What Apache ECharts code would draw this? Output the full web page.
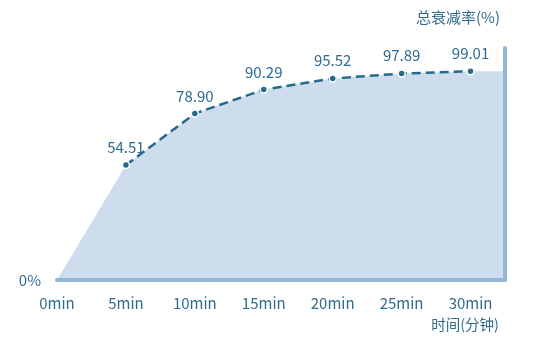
<!DOCTYPE html>
<html>
<head>
<meta charset="utf-8">
<script src="https://cdn.jsdelivr.net/npm/echarts@6/dist/echarts.min.js"></script>
<style>
html,body{margin:0;padding:0;background:#fff;}
#chart{width:554px;height:346px;}
</style>
</head>
<body>
<div id="chart"></div>
<script>
// Data
var times = [0, 5, 10, 15, 20, 25, 30];
var decayRate = [0, 54.51, 78.90, 90.29, 95.52, 97.89, 99.01];
var yAxisTitle = '总衰减率(%)';
var xAxisTitle = '时间(分钟)';

var X_MAX = 32.5;
var FONT = '"Noto Sans CJK SC", "Noto Sans", sans-serif';
var TEXT = '#2f6b8f';
var LINE = '#256a8c';
var FILL = '#cedded';
var BAR = '#95b7d7';

var areaData = times.map(function (t, i) { return [t, decayRate[i]]; });
areaData.push([X_MAX, decayRate[decayRate.length - 1]]);
var lineData = times.slice(1).map(function (t, i) { return [t, decayRate[i + 1]]; });

var chart = echarts.init(document.getElementById('chart'), null, {renderer: 'canvas'});
chart.setOption({
  animation: false,
  textStyle: {fontFamily: FONT},
  title: [
    {text: yAxisTitle, right: 54, top: 10, padding: 0,
     textStyle: {fontFamily: FONT, fontSize: 15, fontWeight: 'normal', color: TEXT}},
    {text: xAxisTitle, right: 55, top: 317, padding: 0,
     textStyle: {fontFamily: FONT, fontSize: 14.5, fontWeight: 'normal', color: TEXT}}
  ],
  grid: {left: 57, right: 49, top: 48, bottom: 66},
  xAxis: {
    type: 'value', min: 0, max: X_MAX, interval: 5, z: 10,
    axisLine: {show: true, lineStyle: {color: BAR, width: 4}},
    axisTick: {show: false},
    splitLine: {show: false},
    axisLabel: {
      margin: 16, fontSize: 15, color: TEXT, fontFamily: FONT,
      showMaxLabel: false,
      formatter: function (v) { return (v % 5 === 0) ? v + 'min' : ''; }
    }
  },
  yAxis: [
    {
      type: 'value', min: 0, max: 110, interval: 10, position: 'left', z: 10,
      axisLine: {show: false}, axisTick: {show: false}, splitLine: {show: false},
      axisLabel: {margin: 16, fontSize: 15, color: TEXT, fontFamily: FONT, padding: [0, 0, 7, 0],
        formatter: function (v) { return v === 0 ? '0%' : ''; }}
    },
    {
      type: 'value', min: 0, max: 110, interval: 10, position: 'right', z: 10,
      axisLine: {show: true, lineStyle: {color: BAR, width: 4}},
      axisTick: {show: false}, splitLine: {show: false}, axisLabel: {show: false}
    }
  ],
  series: [
    {
      type: 'line', data: areaData, showSymbol: false, silent: true,
      lineStyle: {width: 0}, areaStyle: {color: FILL, opacity: 1}, z: 1
    },
    {
      type: 'line', data: lineData, z: 3,
      symbol: 'circle', symbolSize: 7,
      itemStyle: {color: LINE, borderColor: '#fff', borderWidth: 1.5},
      lineStyle: {color: LINE, width: 2.5, type: [9, 5]},
      label: {show: true, position: 'top', distance: 6, fontSize: 15, color: TEXT, fontFamily: FONT,
        formatter: function (p) { return p.value[1].toFixed(2); }}
    }
  ]
});
</script>
</body>
</html>
